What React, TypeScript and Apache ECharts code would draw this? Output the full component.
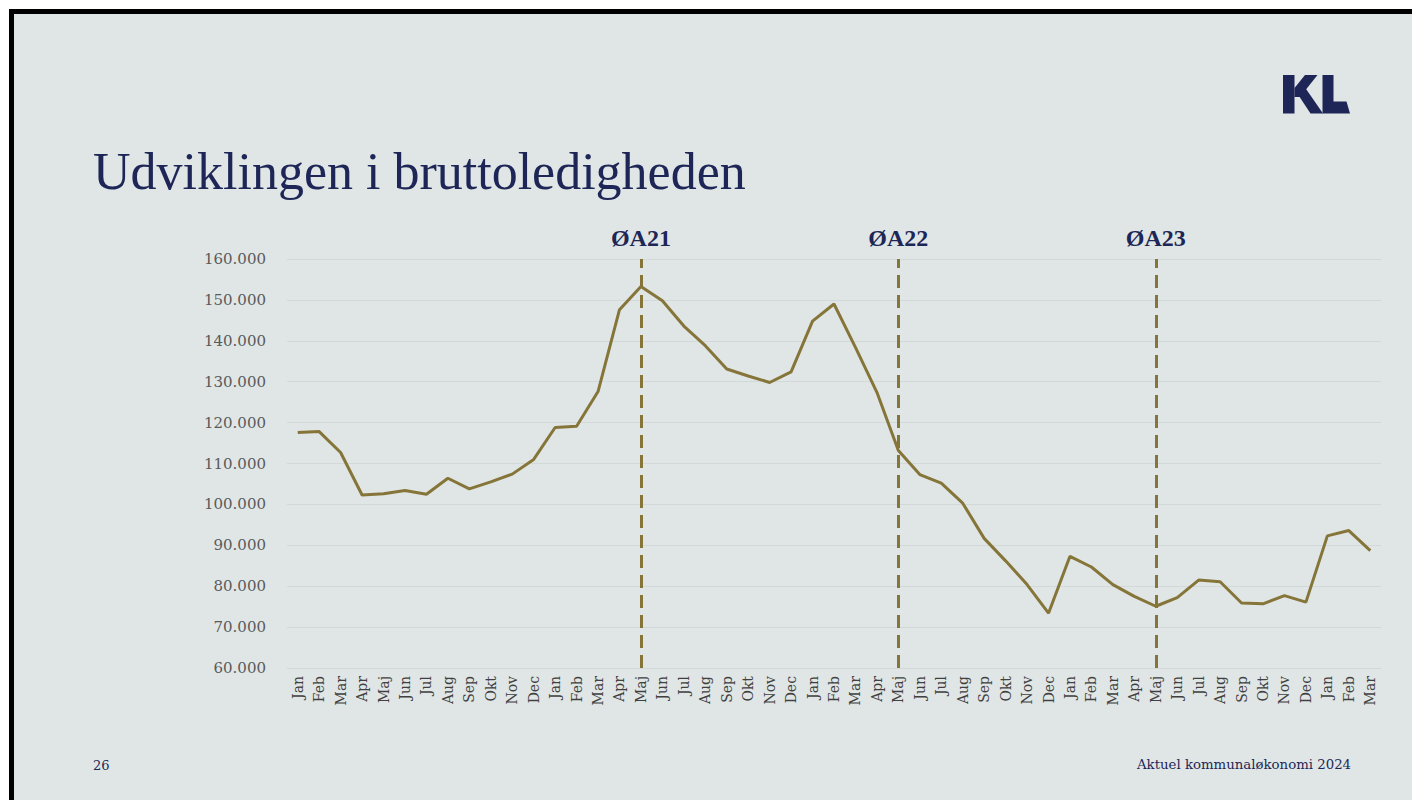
import React, { useEffect, useRef } from "react";
import * as echarts from "echarts";

const monthNames = ["Jan", "Feb", "Mar", "Apr", "Maj", "Jun", "Jul", "Aug", "Sep", "Okt", "Nov", "Dec"];
const categories: string[] = [
  ...monthNames, // 2020
  ...monthNames, // 2021
  ...monthNames, // 2022
  ...monthNames, // 2023
  "Jan", "Feb", "Mar", // 2024
];
const values2020 = [117600, 117800, 112700, 102300, 102600, 103400, 102500, 106400, 103800, 105500, 107400, 111000];
const values2021 = [118800, 119100, 127600, 147600, 153300, 149800, 143600, 138800, 133100, 131400, 129800, 132400];
const values2022 = [144800, 149000, 138400, 127400, 113200, 107300, 105200, 100300, 91700, 86200, 80400, 73400];
const values2023 = [87300, 84700, 80400, 77500, 75100, 77200, 81500, 81100, 75900, 75700, 77700, 76100];
const values2024 = [92300, 93600, 88700];
const seriesValues = [...values2020, ...values2021, ...values2022, ...values2023, ...values2024];

const markers = [
  { index: 16, label: "ØA21" },
  { index: 28, label: "ØA22" },
  { index: 40, label: "ØA23" },
];

const yMin = 60000;
const yMax = 160000;
const yStep = 10000;

const titleText = "Udviklingen i bruttoledigheden";
const pageNumber = "26";
const footerText = "Aktuel kommunaløkonomi 2024";

const NAVY = "#1d2656";
const GOLD = "#867539";

function fmt(v: number): string {
  return String(Math.round(v)).replace(/\B(?=(\d{3})+(?!\d))/g, ".");
}

export default function App() {
  const ref = useRef<HTMLDivElement>(null);
  useEffect(() => {
    if (!ref.current) return;
    const chart = echarts.init(ref.current, undefined, { renderer: "svg" });
    chart.setOption({
      animation: false,
      backgroundColor: "transparent",
      grid: { left: 287, right: 31, top: 259, bottom: 132, containLabel: false },
      xAxis: {
        type: "category",
        data: categories,
        boundaryGap: true,
        axisLine: { show: false },
        axisTick: { show: false },
        axisLabel: {
          rotate: 90,
          interval: 0,
          margin: 8,
          fontFamily: "DejaVu Serif",
          fontSize: 14,
          color: "#404040",
        },
      },
      yAxis: {
        type: "value",
        min: yMin,
        max: yMax,
        interval: yStep,
        axisLine: { show: false },
        axisTick: { show: false },
        splitLine: { show: true, lineStyle: { color: "#d3d8d9", width: 1 } },
        axisLabel: {
          margin: 21,
          fontFamily: "DejaVu Serif",
          fontSize: 15,
          color: "#5a5a5a",
          formatter: (v: number) => fmt(v),
        },
      },
      series: [
        {
          type: "line",
          data: seriesValues,
          symbol: "none",
          lineStyle: { color: GOLD, width: 3 },
          z: 5,
          markLine: {
            silent: true,
            symbol: "none",
            lineStyle: { color: GOLD, width: 3, type: [13, 7] },
            label: {
              show: true,
              position: "end",
              distance: 9,
              fontFamily: "Liberation Serif",
              fontWeight: "bold",
              fontSize: 24,
              color: NAVY,
            },
            data: markers.map((m) => ({
              xAxis: m.index,
              label: { formatter: m.label },
            })),
          },
        },
      ],
      graphic: [
        {
          type: "text",
          left: 93,
          top: 145,
          style: {
            text: titleText,
            font: "52px 'Liberation Serif'",
            fill: NAVY,
          },
        },
        {
          type: "text",
          x: 93,
          y: 765,
          style: {
            text: pageNumber,
            font: "13px 'DejaVu Serif'",
            fill: NAVY,
            verticalAlign: "middle",
          },
        },
        {
          type: "text",
          x: 1137,
          y: 764,
          style: {
            text: footerText,
            font: "13.3px 'DejaVu Serif'",
            fill: NAVY,
            verticalAlign: "middle",
          },
        },
        {
          type: "polygon",
          shape: { points: [[1283, 75], [1294.5, 75], [1294.5, 113.5], [1283, 113.5]] },
          style: { fill: NAVY },
        },
        {
          type: "polygon",
          shape: { points: [[1294.5, 88], [1305, 75], [1317.5, 75], [1300, 97], [1294.5, 97]] },
          style: { fill: NAVY },
        },
        {
          type: "polygon",
          shape: { points: [[1297, 93], [1304, 86], [1323, 113.5], [1310.5, 113.5]] },
          style: { fill: NAVY },
        },
        {
          type: "polygon",
          shape: { points: [[1322.5, 75], [1333.5, 75], [1333.5, 101.5], [1346.5, 101.5], [1350, 113.5], [1322.5, 113.5]] },
          style: { fill: NAVY },
        },
      ],
    });
    return () => chart.dispose();
  }, []);

  return (
    <div style={{ position: "fixed", left: 0, top: 0, width: 1412, height: 800, background: "#ffffff", overflow: "hidden" }}>
      <div
        style={{
          position: "absolute",
          left: 9,
          top: 9,
          right: 0,
          bottom: 0,
          boxSizing: "border-box",
          borderTop: "5px solid #000",
          borderLeft: "5px solid #000",
          background: "#e0e6e6",
        }}
      />
      <div ref={ref} style={{ position: "absolute", left: 0, top: 0, width: 1412, height: 800 }} />
    </div>
  );
}
